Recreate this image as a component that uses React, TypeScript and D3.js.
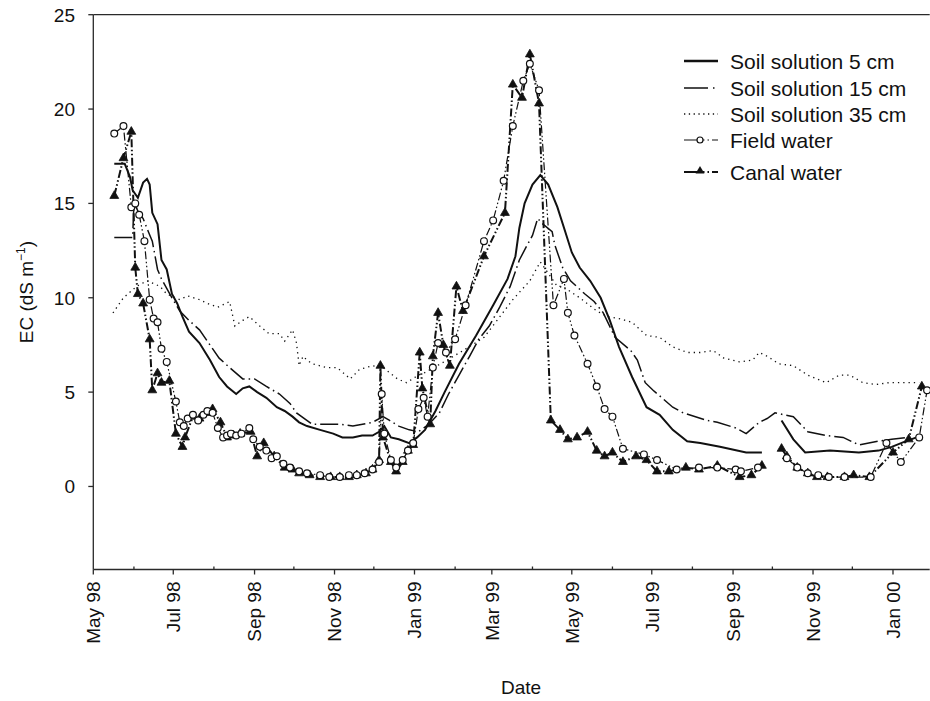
import React from 'react';
import * as d3 from 'd3';

const WIDTH = 930;
const HEIGHT = 701;
const X_START = '1998-05-01';
const X_END = '2000-01-29';
const Y_MIN = -4.4;
const Y_MAX = 25;
const Y_TICKS = [0, 5, 10, 15, 20, 25];
const X_LABEL = 'Date';
const Y_LABEL = 'EC (dS m';
const LEGEND_LABELS = ['Soil solution 5 cm', 'Soil solution 15 cm', 'Soil solution 35 cm', 'Field water', 'Canal water'];

type Row = [string, number | null];

const soil5: Row[] = [
  ['1998-05-17', 17.1], ['1998-05-25', 17.1], ['1998-05-29', 16.4], ['1998-05-31', 15.7], ['1998-06-04', 15.3],
  ['1998-06-08', 16.1], ['1998-06-11', 16.3], ['1998-06-13', 16.0], ['1998-06-15', 14.5], ['1998-06-19', 13.9],
  ['1998-06-22', 12.0], ['1998-06-26', 11.5], ['1998-06-30', 10.2], ['1998-07-04', 9.7], ['1998-07-08', 9.0],
  ['1998-07-13', 8.2], ['1998-07-21', 7.6], ['1998-07-29', 6.7], ['1998-08-05', 5.8], ['1998-08-11', 5.3],
  ['1998-08-18', 4.9], ['1998-08-23', 5.2], ['1998-08-28', 5.3], ['1998-09-03', 5.0], ['1998-09-10', 4.7],
  ['1998-09-18', 4.2], ['1998-09-24', 4.0], ['1998-09-30', 3.7], ['1998-10-05', 3.4], ['1998-10-11', 3.2],
  ['1998-10-21', 3.0], ['1998-10-31', 2.8], ['1998-11-07', 2.6], ['1998-11-15', 2.6], ['1998-11-22', 2.7],
  ['1998-11-30', 2.7], ['1998-12-05', 2.9], ['1998-12-09', 3.2], ['1998-12-14', 2.6], ['1998-12-20', 2.5],
  ['1998-12-28', 2.3], ['1999-01-03', 2.6], ['1999-01-09', 3.0], ['1999-01-17', 4.0], ['1999-01-24', 5.0],
  ['1999-02-04', 6.5], ['1999-02-17', 8.0], ['1999-03-02', 9.6], ['1999-03-13', 11.0], ['1999-03-19', 12.2],
  ['1999-03-22', 13.7], ['1999-03-26', 15.0], ['1999-04-01', 16.0], ['1999-04-07', 16.5], ['1999-04-13', 16.0],
  ['1999-04-20', 14.8], ['1999-04-26', 13.5], ['1999-05-01', 12.4], ['1999-05-07', 11.6], ['1999-05-15', 10.9],
  ['1999-05-23', 10.0], ['1999-05-30', 8.8], ['1999-06-06', 7.4], ['1999-06-16', 5.8], ['1999-06-27', 4.2],
  ['1999-07-07', 3.8], ['1999-07-17', 3.0], ['1999-07-28', 2.4], ['1999-08-07', 2.3], ['1999-08-22', 2.1],
  ['1999-09-11', 1.8], ['1999-09-23', 1.8], ['1999-09-30', null], ['1999-10-08', 3.5], ['1999-10-17', 2.5],
  ['1999-10-26', 1.8], ['1999-11-14', 1.9], ['1999-12-06', 1.8], ['1999-12-21', 1.9], ['1999-12-31', 2.1],
  ['2000-01-11', 2.4], ['2000-01-19', 2.6],
];

const soil15: Row[] = [
  ['1998-05-17', 13.2], ['1998-05-31', 13.2], ['1998-06-01', 15.0], ['1998-06-04', 14.6], ['1998-06-08', 14.2],
  ['1998-06-12', 13.5], ['1998-06-15', 13.0], ['1998-06-19', 11.5], ['1998-06-22', 11.0], ['1998-06-26', 10.5],
  ['1998-06-30', 10.0], ['1998-07-06', 9.3], ['1998-07-13', 8.8], ['1998-07-21', 8.3], ['1998-07-29', 7.5],
  ['1998-08-05', 6.8], ['1998-08-13', 6.3], ['1998-08-23', 5.7], ['1998-09-01', 5.7], ['1998-09-10', 5.3],
  ['1998-09-20', 4.9], ['1998-09-28', 4.4], ['1998-10-03', 3.9], ['1998-10-15', 3.3], ['1998-11-05', 3.3],
  ['1998-11-15', 3.2], ['1998-11-30', 3.4], ['1998-12-08', 3.7], ['1998-12-13', 3.5], ['1998-12-20', 3.2],
  ['1998-12-28', 3.0], ['1999-01-04', 2.9], ['1999-01-12', 3.3], ['1999-01-20', 3.9], ['1999-01-27', 4.9],
  ['1999-02-04', 5.9], ['1999-02-12', 6.9], ['1999-02-19', 7.8], ['1999-02-27', 8.5], ['1999-03-07', 9.5],
  ['1999-03-15', 10.6], ['1999-03-22', 12.0], ['1999-03-28', 12.8], ['1999-04-01', 13.3], ['1999-04-05', 14.2],
  ['1999-04-09', 13.9], ['1999-04-16', 13.5], ['1999-04-18', 12.8], ['1999-04-24', 11.6], ['1999-04-30', 10.9],
  ['1999-05-11', 10.2], ['1999-05-18', 9.8], ['1999-05-25', 9.2], ['1999-06-03', 7.9], ['1999-06-15', 7.2],
  ['1999-06-20', 6.7], ['1999-06-26', 5.5], ['1999-07-02', 5.1], ['1999-07-17', 4.2], ['1999-07-25', 3.9],
  ['1999-08-12', 3.5], ['1999-08-20', 3.4], ['1999-09-03', 3.1], ['1999-09-11', 2.8], ['1999-09-21', 3.4],
  ['1999-09-27', 3.6], ['1999-10-03', 3.9], ['1999-10-17', 3.7], ['1999-10-28', 2.9], ['1999-11-11', 2.7],
  ['1999-11-24', 2.6], ['1999-12-06', 2.2], ['1999-12-21', 2.4], ['1999-12-31', 2.5], ['2000-01-13', 2.6],
];

const soil35: Row[] = [
  ['1998-05-16', 9.2], ['1998-05-24', 10.0], ['1998-06-03', 10.6], ['1998-06-11', 10.9], ['1998-06-21', 10.6],
  ['1998-06-26', 10.2], ['1998-07-06', 9.9], ['1998-07-12', 10.1], ['1998-07-21', 9.9], ['1998-07-27', 9.7],
  ['1998-08-04', 9.5], ['1998-08-13', 9.8], ['1998-08-17', 8.5], ['1998-08-23', 8.8], ['1998-08-28', 9.0],
  ['1998-09-05', 8.5], ['1998-09-12', 8.1], ['1998-09-20', 8.1], ['1998-09-24', 7.7], ['1998-09-30', 8.3],
  ['1998-10-03', 7.6], ['1998-10-05', 6.4], ['1998-10-08', 6.9], ['1998-10-11', 6.7], ['1998-10-15', 6.5],
  ['1998-10-26', 6.3], ['1998-11-03', 6.3], ['1998-11-13', 5.7], ['1998-11-20', 6.2], ['1998-11-30', 6.4],
  ['1998-12-08', 6.3], ['1998-12-19', 5.7], ['1998-12-26', 5.5], ['1999-01-04', 5.9], ['1999-01-08', 6.0],
  ['1999-01-26', 6.7], ['1999-02-07', 7.2], ['1999-02-23', 7.9], ['1999-03-05', 8.8], ['1999-03-17', 9.9],
  ['1999-03-30', 10.9], ['1999-04-07', 11.9], ['1999-04-20', 10.6], ['1999-04-24', 10.6], ['1999-05-07', 10.0],
  ['1999-05-20', 9.3], ['1999-05-28', 9.0], ['1999-06-06', 8.9], ['1999-06-16', 8.7], ['1999-06-27', 8.0],
  ['1999-07-07', 7.9], ['1999-07-17', 7.4], ['1999-07-28', 7.1], ['1999-08-07', 7.1], ['1999-08-17', 7.2],
  ['1999-08-25', 6.8], ['1999-09-06', 6.6], ['1999-09-16', 6.7], ['1999-09-21', 7.1], ['1999-09-27', 6.9],
  ['1999-10-06', 6.5], ['1999-10-17', 6.4], ['1999-10-28', 5.9], ['1999-11-11', 5.5], ['1999-11-21', 5.9],
  ['1999-11-29', 5.9], ['1999-12-09', 5.5], ['1999-12-19', 5.4], ['1999-12-29', 5.5], ['2000-01-11', 5.5],
  ['2000-01-21', 5.5],
];

const fieldWater: Row[] = [
  ['1998-05-17', 18.7], ['1998-05-24', 19.1], ['1998-05-30', 14.8], ['1998-06-02', 15.0], ['1998-06-05', 14.4],
  ['1998-06-09', 13.0], ['1998-06-13', 9.9], ['1998-06-16', 8.9], ['1998-06-19', 8.7], ['1998-06-22', 7.3],
  ['1998-06-26', 6.6], ['1998-07-03', 4.5], ['1998-07-06', 3.4], ['1998-07-09', 3.2], ['1998-07-12', 3.6],
  ['1998-07-16', 3.8], ['1998-07-20', 3.5], ['1998-07-24', 3.8], ['1998-07-27', 4.0], ['1998-07-31', 3.9],
  ['1998-08-04', 3.1], ['1998-08-08', 2.6], ['1998-08-11', 2.7], ['1998-08-14', 2.8], ['1998-08-18', 2.7],
  ['1998-08-22', 2.8], ['1998-08-28', 3.1], ['1998-08-31', 2.5], ['1998-09-05', 2.1], ['1998-09-10', 1.9],
  ['1998-09-14', 1.5], ['1998-09-18', 1.6], ['1998-09-23', 1.2], ['1998-09-28', 1.0], ['1998-10-05', 0.8],
  ['1998-10-11', 0.7], ['1998-10-21', 0.6], ['1998-10-28', 0.5], ['1998-11-05', 0.5], ['1998-11-12', 0.6],
  ['1998-11-18', 0.6], ['1998-11-24', 0.7], ['1998-11-30', 0.9], ['1998-12-05', 1.3], ['1998-12-07', 4.9],
  ['1998-12-09', 2.8], ['1998-12-14', 1.4], ['1998-12-18', 1.0], ['1998-12-23', 1.4], ['1998-12-27', 1.9],
  ['1998-12-31', 2.3], ['1999-01-04', 4.1], ['1999-01-08', 4.7], ['1999-01-11', 3.7], ['1999-01-15', 6.3],
  ['1999-01-19', 7.6], ['1999-01-25', 7.1], ['1999-02-01', 7.8], ['1999-02-09', 9.6], ['1999-02-23', 13.0],
  ['1999-03-02', 14.1], ['1999-03-10', 16.2], ['1999-03-17', 19.1], ['1999-03-25', 21.5], ['1999-03-30', 22.4],
  ['1999-04-06', 21.0], ['1999-04-17', 9.6], ['1999-04-25', 11.0], ['1999-04-28', 9.2], ['1999-05-03', 8.0],
  ['1999-05-13', 6.5], ['1999-05-20', 5.3], ['1999-05-26', 4.1], ['1999-06-01', 3.7], ['1999-06-09', 2.0],
  ['1999-06-25', 1.7], ['1999-07-05', 1.4], ['1999-07-20', 0.9], ['1999-08-06', 1.0], ['1999-08-20', 1.0],
  ['1999-09-03', 0.9], ['1999-09-07', 0.8], ['1999-09-20', 1.0], ['1999-09-30', null], ['1999-10-12', 1.5],
  ['1999-10-20', 1.0], ['1999-10-28', 0.7], ['1999-11-05', 0.6], ['1999-11-13', 0.5], ['1999-11-25', 0.5],
  ['1999-12-15', 0.5], ['1999-12-27', 2.3], ['2000-01-07', 1.3], ['2000-01-21', 2.6], ['2000-01-27', 5.1],
];

const canalWater: Row[] = [
  ['1998-05-17', 15.4], ['1998-05-24', 17.4], ['1998-05-30', 18.8], ['1998-06-02', 11.6], ['1998-06-04', 10.2],
  ['1998-06-08', 9.7], ['1998-06-13', 7.8], ['1998-06-15', 5.1], ['1998-06-19', 6.0], ['1998-06-22', 5.5],
  ['1998-06-28', 5.6], ['1998-07-03', 2.8], ['1998-07-08', 2.1], ['1998-07-10', 2.6], ['1998-07-16', 3.7],
  ['1998-07-21', 3.6], ['1998-07-27', 3.9], ['1998-07-31', 4.1], ['1998-08-06', 3.4], ['1998-08-11', 2.6],
  ['1998-08-16', 2.7], ['1998-08-21', 2.8], ['1998-08-29', 2.9], ['1998-09-03', 1.6], ['1998-09-08', 2.3],
  ['1998-09-16', 1.6], ['1998-09-24', 1.0], ['1998-09-30', 0.9], ['1998-10-05', 0.7], ['1998-10-13', 0.6],
  ['1998-10-21', 0.5], ['1998-10-29', 0.5], ['1998-11-05', 0.5], ['1998-11-12', 0.5], ['1998-11-18', 0.6],
  ['1998-11-25', 0.7], ['1998-11-30', 0.9], ['1998-12-05', 1.4], ['1998-12-06', 6.4], ['1998-12-08', 2.6],
  ['1998-12-14', 1.3], ['1998-12-18', 0.8], ['1998-12-23', 1.3], ['1998-12-27', 1.9], ['1998-12-31', 2.2],
  ['1999-01-05', 7.1], ['1999-01-07', 5.2], ['1999-01-13', 3.3], ['1999-01-15', 6.9], ['1999-01-19', 9.2],
  ['1999-01-23', 7.5], ['1999-01-28', 6.4], ['1999-02-02', 10.6], ['1999-02-07', 9.3], ['1999-02-23', 12.2],
  ['1999-03-11', 14.5], ['1999-03-17', 21.3], ['1999-03-24', 20.6], ['1999-03-30', 22.9], ['1999-04-06', 20.3],
  ['1999-04-15', 3.5], ['1999-04-22', 3.0], ['1999-04-28', 2.5], ['1999-05-05', 2.6], ['1999-05-13', 2.9],
  ['1999-05-20', 1.9], ['1999-05-26', 1.6], ['1999-06-01', 1.8], ['1999-06-09', 1.3], ['1999-06-19', 1.6],
  ['1999-06-27', 1.4], ['1999-07-05', 0.8], ['1999-07-14', 0.8], ['1999-07-27', 1.0], ['1999-08-06', 0.9],
  ['1999-08-20', 1.1], ['1999-09-06', 0.5], ['1999-09-15', 0.6], ['1999-09-23', 1.1], ['1999-09-30', null],
  ['1999-10-08', 2.0], ['1999-10-12', 1.6], ['1999-10-20', 1.0], ['1999-10-28', 0.7], ['1999-11-04', 0.5],
  ['1999-11-12', 0.5], ['1999-11-25', 0.5], ['1999-12-02', 0.6], ['1999-12-14', 0.5], ['2000-01-01', 1.8],
  ['2000-01-13', 2.5], ['2000-01-23', 5.3],
];

type Pt = { date: Date; value: number | null };
const parse = d3.timeParse('%Y-%m-%d');
const toPts = (rows: Row[]): Pt[] => rows.map(([d, v]) => ({ date: parse(d) as Date, value: v }));

const FONT = 'Liberation Sans, Arial, Helvetica, sans-serif';

export default function App() {
  const x = d3.scaleTime().domain([parse(X_START) as Date, parse(X_END) as Date]).range([93.3, 929.7]);
  const y = d3.scaleLinear().domain([Y_MIN, Y_MAX]).range([569.5, 14.7]);
  const line = d3
    .line<Pt>()
    .defined((d) => d.value !== null)
    .x((d) => x(d.date))
    .y((d) => y(d.value as number));

  const s5 = toPts(soil5);
  const s15 = toPts(soil15);
  const s35 = toPts(soil35);
  const fw = toPts(fieldWater);
  const cw = toPts(canalWater);

  const months = x.ticks(d3.timeMonth.every(1) as d3.TimeInterval);
  const fmt = d3.timeFormat('%b %y');
  const tri = d3.symbol().type(d3.symbolTriangle).size(34)() as string;

  const x0 = x.range()[0];
  const x1 = x.range()[1];
  const yTop = y(Y_MAX);
  const yBot = y(Y_MIN);
  const axisColor = '#2a2a2a';

  const styles = [
    { stroke: 2, dash: undefined as string | undefined },
    { stroke: 1.5, dash: '18,4,1.5,4' },
    { stroke: 1.3, dash: '1.3,4' },
    { stroke: 1.2, dash: '8,2.5,1.5,2.5,1.5,2.5' },
    { stroke: 2, dash: '8,2.5,1.5,2.5,1.5,2.5' },
  ];
  const legendY = [61, 88, 114, 140, 172];

  return (
    <svg
      width={WIDTH}
      height={HEIGHT}
      style={{ position: 'absolute', left: 0, top: 0, background: '#fff' }}
      fontFamily={FONT}
    >
      {/* frame */}
      <line x1={x0} x2={x0} y1={yTop} y2={yBot} stroke={axisColor} strokeWidth={1.3} />
      <line x1={x0} x2={x1} y1={yTop} y2={yTop} stroke={axisColor} strokeWidth={1.3} />
      <line x1={x0} x2={x1} y1={yBot} y2={yBot} stroke={axisColor} strokeWidth={1.3} />

      {/* y ticks */}
      {Y_TICKS.map((t) => (
        <g key={t}>
          <line x1={x0 - 5} x2={x0} y1={y(t)} y2={y(t)} stroke={axisColor} strokeWidth={1.3} />
          <text x={75} y={y(t)} dy="0.36em" textAnchor="end" fontSize={19} fill="#111">
            {t}
          </text>
        </g>
      ))}

      {/* x ticks */}
      {months.map((m) => {
        const major = m.getMonth() % 2 === 0;
        const px = x(m);
        return (
          <g key={m.toISOString()}>
            <line x1={px} x2={px} y1={yBot} y2={major ? yBot + 5 : yBot - 3} stroke={axisColor} strokeWidth={1.3} />
            {major && (
              <text
                transform={`translate(${px},${yBot + 12}) rotate(-90)`}
                dy="0.36em"
                textAnchor="end"
                fontSize={19}
                fill="#111"
              >
                {fmt(m)}
              </text>
            )}
          </g>
        );
      })}

      {/* axis titles */}
      <text x={521} y={694} textAnchor="middle" fontSize={19} fill="#111">
        {X_LABEL}
      </text>
      <text transform={`translate(33,${(yTop + yBot) / 2}) rotate(-90)`} textAnchor="middle" fontSize={19} fill="#111">
        {Y_LABEL}
        <tspan fontSize={12} dy={-8}>
          −1
        </tspan>
        <tspan dy={8}>)</tspan>
      </text>

      {/* series lines */}
      <path d={line(s35) || ''} fill="none" stroke="#111" strokeWidth={styles[2].stroke} strokeDasharray={styles[2].dash} />
      <path d={line(s15) || ''} fill="none" stroke="#111" strokeWidth={styles[1].stroke} strokeDasharray={styles[1].dash} />
      <path d={line(s5) || ''} fill="none" stroke="#111" strokeWidth={styles[0].stroke} />
      <path d={line(cw) || ''} fill="none" stroke="#111" strokeWidth={styles[4].stroke} strokeDasharray={styles[4].dash} />
      <path d={line(fw) || ''} fill="none" stroke="#111" strokeWidth={styles[3].stroke} strokeDasharray={styles[3].dash} />

      {/* markers */}
      {cw.filter((d) => d.value !== null).map((d, i) => (
        <path key={'c' + i} d={tri} transform={`translate(${x(d.date)},${y(d.value as number)})`} fill="#111" stroke="#111" strokeWidth={0.8} />
      ))}
      {fw.filter((d) => d.value !== null).map((d, i) => (
        <circle key={'f' + i} cx={x(d.date)} cy={y(d.value as number)} r={3.4} fill="#fff" stroke="#111" strokeWidth={1.2} />
      ))}

      {/* legend */}
      {LEGEND_LABELS.map((lab, i) => {
        const ly = legendY[i];
        return (
          <g key={lab}>
            <line
              x1={684}
              x2={718}
              y1={ly}
              y2={ly}
              stroke="#111"
              strokeWidth={i === 0 ? 2.4 : styles[i].stroke}
              strokeDasharray={i === 1 ? '24,5,1.5,10' : i === 2 ? '1.3,3.5' : i >= 3 ? '16,3,1.5,3,1.5,3' : undefined}
            />
            {i === 3 && <circle cx={700} cy={ly} r={3} fill="#fff" stroke="#111" strokeWidth={1.2} />}
            {i === 4 && <path d={tri} transform={`translate(700,${ly - 1})`} fill="#111" />}
            <text x={730} y={ly + 7.5} fontSize={21} fill="#111">
              {lab}
            </text>
          </g>
        );
      })}
    </svg>
  );
}
